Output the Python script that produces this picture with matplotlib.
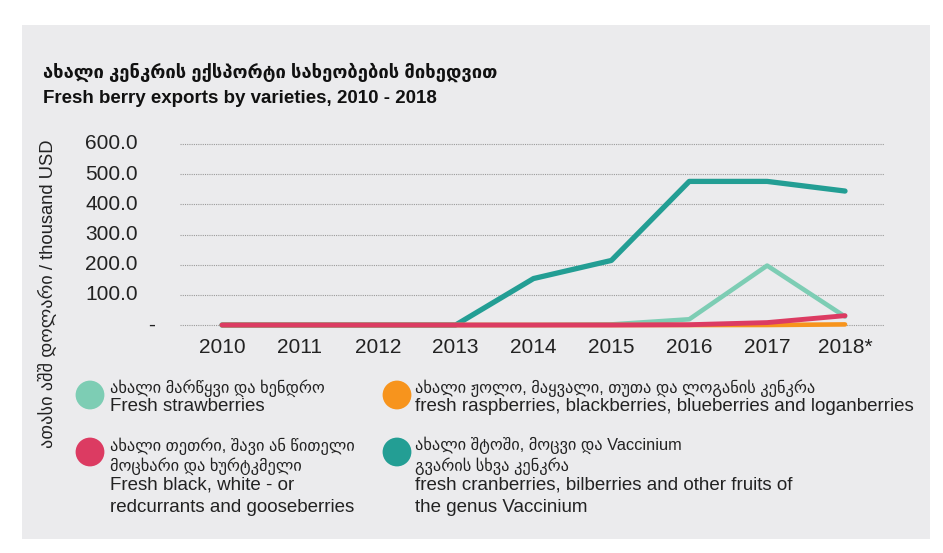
import matplotlib.pyplot as plt
from matplotlib.patches import Rectangle

plt.rcParams['font.family'] = ['Liberation Sans', 'DejaVu Sans']

# Data (thousand USD)
years = [2010, 2011, 2012, 2013, 2014, 2015, 2016, 2017, 2018]
year_labels = ['2010', '2011', '2012', '2013', '2014', '2015', '2016', '2017', '2018*']
vaccinium = [0, 0, 0, 0, 154, 214, 476, 476, 444]
strawberries = [0, 0, 0, 0, 0, 2, 19, 197, 28]
raspberries = [0, 0, 0, 0, 0, 0, 0, 0, 2]
currants = [0, 0, 0, 0, 0, 0, 1, 8, 31]

y_ticks = [0, 100, 200, 300, 400, 500, 600]
y_labels = ['-', '100.0', '200.0', '300.0', '400.0', '500.0', '600.0']

c_straw = '#7dcdb4'
c_rasp = '#f7941d'
c_curr = '#dc3b62'
c_vacc = '#239e94'

legend_items = [
    (c_straw, 'ახალი მარწყვი და ხენდრო', 'Fresh strawberries'),
    (c_rasp, 'ახალი ჟოლო, მაყვალი, თუთა და ლოგანის კენკრა',
     'fresh raspberries, blackberries, blueberries and loganberries'),
    (c_curr, 'ახალი თეთრი, შავი ან წითელი\nმოცხარი და ხურტკმელი',
     'Fresh black, white - or\nredcurrants and gooseberries'),
    (c_vacc, 'ახალი შტოში, მოცვი და Vaccinium\nგვარის სხვა კენკრა',
     'fresh cranberries, bilberries and other fruits of\nthe genus Vaccinium'),
]

W, H = 943, 553
fig = plt.figure(figsize=(W / 100, H / 100), dpi=100)
fig.patch.set_facecolor('white')

# grey panel behind everything
fig.add_artist(Rectangle((22 / W, 1 - 539 / H), (930 - 22) / W, (539 - 25) / H,
                         transform=fig.transFigure, facecolor='#ebebed',
                         edgecolor='none', zorder=-10))

# axes placement in pixels: left 180, right 884, top 140, bottom 330
ax = fig.add_axes([180 / W, 1 - 330 / H, 704 / W, 190 / H])
ax.set_facecolor('none')
px_per_unit = 181.5 / 600
ax.set_ylim(-5 / px_per_unit, 600 + 4 / px_per_unit)
px_per_year = 77.9
ax.set_xlim(2010 - 42 / px_per_year, 2018 + 39 / px_per_year)

ax.plot(years, vaccinium, color=c_vacc, lw=3.8, solid_capstyle='round', solid_joinstyle='round', zorder=3)
ax.plot(years, strawberries, color=c_straw, lw=3.3, solid_capstyle='round', solid_joinstyle='round', zorder=4)
ax.plot(years, raspberries, color=c_rasp, lw=3.3, solid_capstyle='round', solid_joinstyle='round', zorder=5)
ax.plot(years, currants, color=c_curr, lw=3.5, solid_capstyle='round', solid_joinstyle='round', zorder=6)

ax.set_yticks(y_ticks)
ax.set_yticklabels([])
ax.grid(axis='y', linestyle=(0, (1, 1)), color='#9a9a9a', lw=0.8)
ax.tick_params(length=0)
ax.set_xticks(years)
ax.set_xticklabels(year_labels, fontsize=15, color='#222222')
ax.tick_params(axis='x', pad=6)
for s in ax.spines.values():
    s.set_visible(False)

# y tick labels (accounting style "-" for zero)
ytr = ax.get_yaxis_transform()
for v, lab in zip(y_ticks, y_labels):
    if lab == '-':
        ax.text(-28 / 704, v, lab, transform=ytr, ha='center', va='center',
                fontsize=15, color='#222222')
    else:
        ax.text(-42 / 704, v, lab, transform=ytr, ha='right', va='center',
                fontsize=15, color='#222222')

# rotated y label
fig.text(48 / W, 1 - 294 / H, 'ათასი აშშ დოლარი / thousand USD', rotation=90,
         ha='center', va='center', fontsize=13.2, color='#222222')

# titles
fig.text(43 / W, 1 - 72 / H, 'ახალი კენკრის ექსპორტი სახეობების მიხედვით',
         ha='left', va='center', fontsize=13.2, fontweight='bold', color='#111111')
fig.text(43 / W, 1 - 98 / H, 'Fresh berry exports by varieties, 2010 - 2018',
         ha='left', va='center', fontsize=13.5, fontweight='bold', color='#111111')

# legend
lax = fig.add_axes([0, 0, 1, 1])
lax.set_xlim(0, W)
lax.set_ylim(H, 0)
lax.axis('off')
lax.set_zorder(-1)
pos = [(90, 395, 110, 387), (397, 395, 415, 387), (90, 452, 110, 445), (397, 452, 415, 445)]
for (col, ka, en), (cx, cy, tx, ty) in zip(legend_items, pos):
    lax.scatter([cx], [cy], s=430, color=col, edgecolors='none')
    nk = ka.count('\n') + 1
    lax.text(tx, ty - 8, ka, ha='left', va='top', fontsize=11.8, color='#222222',
             linespacing=1.2)
    lax.text(tx, ty - 10 + nk * 21, en, ha='left', va='top', fontsize=13.5,
             color='#222222', linespacing=1.4)

plt.savefig('out.png', dpi=100)
